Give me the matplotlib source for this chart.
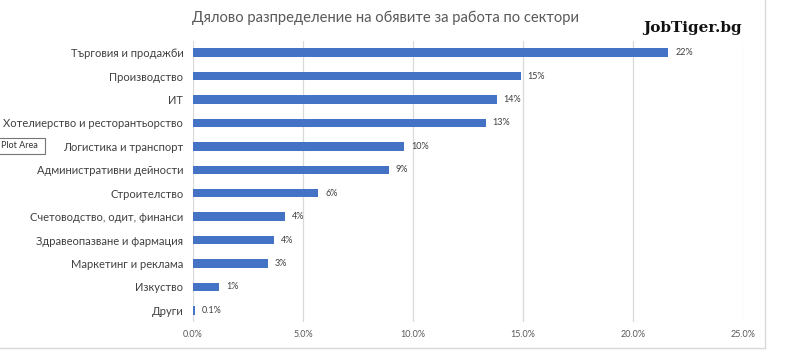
import matplotlib
matplotlib.use("Agg")
import matplotlib.pyplot as plt
from matplotlib.lines import Line2D
from matplotlib.patches import FancyBboxPatch

categories = ["Търговия и продажби", "Производство", "ИТ",
              "Хотелиерство и ресторантьорство", "Логистика и транспорт",
              "Административни дейности", "Строителство",
              "Счетоводство, одит, финанси", "Здравеопазване и фармация",
              "Маркетинг и реклама", "Изкуство", "Други"]
values = [21.6, 14.9, 13.8, 13.3, 9.6, 8.9, 5.7, 4.2, 3.7, 3.4, 1.2, 0.1]
value_labels = ["22%", "15%", "14%", "13%", "10%", "9%", "6%", "4%", "4%",
                "3%", "1%", "0.1%"]
xticks = [0, 5, 10, 15, 20, 25]
xtick_labels = ["0.0%", "5.0%", "10.0%", "15.0%", "20.0%", "25.0%"]
title = "Дялово разпределение на обявите за работа по сектори"

plt.rcParams['font.family'] = ['Lato', 'DejaVu Sans']

fig = plt.figure(figsize=(7.86, 3.52), dpi=100)
fig.patch.set_facecolor("white")
ax = fig.add_axes([193/786, 1 - 322/352, 550/786, 281/352])

y = list(range(len(categories)))
ax.barh(y, values, height=0.36, color="#4472C4", zorder=3)
for yi, v, lab in zip(y, values, value_labels):
    ax.annotate(lab, (v, yi), xytext=(5, 0), textcoords="offset points",
                va="center", ha="left", fontsize=6.5, color="#404040")

ax.set_xlim(0, 25)
ax.set_ylim(len(categories) - 0.5, -0.5)
ax.set_yticks(y)
ax.set_yticklabels(categories, fontsize=8.0, color="#404040")
ax.set_xticks(xticks)
ax.set_xticklabels(xtick_labels, fontsize=6.5, color="#595959")
ax.tick_params(axis="both", length=0)
ax.tick_params(axis="y", pad=7)
ax.tick_params(axis="x", pad=6)
ax.grid(axis="x", color="#D9D9D9", linewidth=0.9, zorder=0)
for s in ax.spines.values():
    s.set_visible(False)

fig.text(386/786, 1 - 18/352, title, ha="center", va="center",
         fontsize=10.6, color="#595959")
fig.text(643/786, 1 - 28/352, "JobTiger.bg", ha="left", va="center",
         fontsize=11, fontweight="bold", family="DejaVu Serif", color="#111111")

# chart area border (right and bottom)
fig.add_artist(Line2D([765/786, 765/786], [1 - 348/352, 1.0],
                      transform=fig.transFigure, color="#D9D9D9", lw=1))
fig.add_artist(Line2D([0, 765/786], [1 - 348/352, 1 - 348/352],
                      transform=fig.transFigure, color="#D9D9D9", lw=1))

# "Plot Area" tooltip
fig.add_artist(FancyBboxPatch((-2/786, 1 - 154/352), 47/786, 16/352,
                              boxstyle="square,pad=0", transform=fig.transFigure,
                              facecolor="white", edgecolor="#767676", lw=0.8))
fig.text(1/786, 1 - 146/352, "Plot Area", ha="left", va="center",
         fontsize=6.5, color="#333333")

fig.savefig("out.png", dpi=100, facecolor="white")
